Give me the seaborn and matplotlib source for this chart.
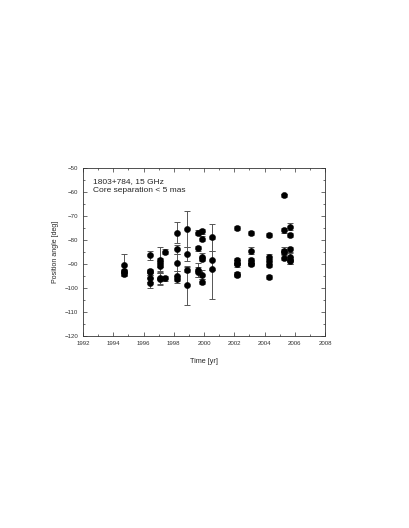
import numpy as np
import pandas as pd
import seaborn as sns
import matplotlib.pyplot as plt
from matplotlib.ticker import MultipleLocator

# epochs [yr], position angles [deg], errors [deg]
epoch = [
    1994.7, 1994.7, 1994.7, 1994.7,
    1996.4, 1996.4, 1996.4, 1996.4, 1996.4,
    1997.1, 1997.1, 1997.1, 1997.1, 1997.1, 1997.4, 1997.4,
    1998.2, 1998.2, 1998.2, 1998.2, 1998.2,
    1998.9, 1998.9, 1998.9, 1998.9,
    1999.6, 1999.6, 1999.6, 1999.6,
    1999.85, 1999.85, 1999.85, 1999.85, 1999.85, 1999.85,
    2000.5, 2000.5, 2000.5,
    2002.2, 2002.2, 2002.2, 2002.2, 2002.2, 2002.2,
    2003.1, 2003.1, 2003.1, 2003.1, 2003.1,
    2004.3, 2004.3, 2004.3, 2004.3, 2004.3,
    2005.3, 2005.3, 2005.3, 2005.3, 2005.3,
    2005.7, 2005.7, 2005.7, 2005.7, 2005.7, 2005.7,
]
angle = [
    -90.5, -93.0, -93.5, -94.2,
    -86.5, -93.0, -93.5, -96.0, -98.0,
    -88.5, -89.5, -91.0, -96.0, -96.5, -85.0, -96.0,
    -77.0, -84.0, -89.5, -95.0, -96.5,
    -75.5, -86.0, -92.5, -99.0,
    -77.0, -83.5, -92.5, -93.5,
    -76.5, -79.5, -87.0, -88.0, -94.5, -97.5,
    -79.0, -88.5, -92.0,
    -75.2, -88.5, -89.5, -90.0, -94.2, -94.5,
    -77.0, -84.5, -88.5, -89.5, -90.0,
    -78.0, -87.0, -89.0, -90.5, -95.5,
    -61.5, -76.0, -84.5, -85.0, -87.5,
    -74.5, -78.0, -84.0, -87.0, -88.5, -89.0,
]
error = [
    4.5, 1.0, 1.0, 1.0,
    2.0, 1.0, 1.0, 1.5, 2.0,
    5.5, 2.0, 2.0, 2.5, 2.5, 1.0, 1.0,
    4.5, 2.0, 3.5, 2.0, 1.5,
    7.5, 3.0, 1.0, 8.0,
    1.0, 1.0, 3.0, 2.0,
    1.0, 1.0, 1.5, 1.0, 2.0, 1.0,
    5.5, 4.0, 12.5,
    0.8, 1.0, 1.0, 1.5, 1.0, 1.0,
    0.8, 1.5, 1.0, 1.0, 1.0,
    1.0, 1.0, 1.0, 1.0, 0.8,
    0.8, 1.0, 1.5, 1.0, 1.0,
    1.5, 1.0, 1.0, 1.5, 1.5, 1.0,
]

df = pd.DataFrame({"time": epoch, "pa": angle, "err": error})

sns.set_style("ticks")
plt.rcParams['font.family'] = ['Liberation Sans', 'DejaVu Sans']

fig = plt.figure(figsize=(4.09, 5.28), dpi=100)
ax = fig.add_axes([0.203, 0.364, 0.592, 0.318])

ax.errorbar(df["time"], df["pa"], yerr=df["err"], fmt='none', ecolor='#555555',
            elinewidth=0.7, capsize=2.2, capthick=0.7, zorder=1)
sns.scatterplot(data=df, x="time", y="pa", ax=ax, color='black', s=20,
                edgecolor='black', linewidth=0.3, zorder=2, legend=False)

ax.set_xlim(1992, 2008)
ax.set_ylim(-120, -50)
ax.xaxis.set_major_locator(MultipleLocator(2))
ax.xaxis.set_minor_locator(MultipleLocator(1))
ax.yaxis.set_major_locator(MultipleLocator(10))
ax.yaxis.set_minor_locator(MultipleLocator(5))
ax.tick_params(which='both', direction='in', top=True, right=True,
               labelsize=4.4, width=0.5, colors='#333333')
ax.tick_params(which='major', length=3)
ax.tick_params(which='minor', length=1.5)
for s in ax.spines.values():
    s.set_linewidth(0.6)
    s.set_color('#333333')

ax.set_xlabel("Time [yr]", fontsize=5.2, labelpad=9)
ax.set_ylabel("Position angle [deg]", fontsize=5.0, labelpad=4)
ax.text(0.04, 0.908, "1803+784, 15 GHz", transform=ax.transAxes,
        fontsize=6.0, va='baseline')
ax.text(0.04, 0.854, "Core separation < 5 mas", transform=ax.transAxes,
        fontsize=6.0, va='baseline')

fig.savefig("out.png", dpi=100)
